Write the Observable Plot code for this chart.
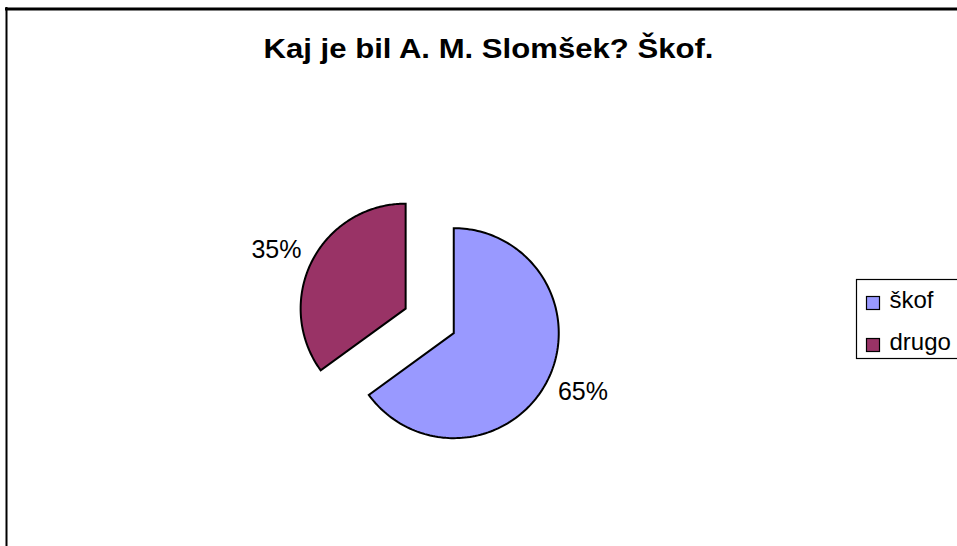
<!DOCTYPE html>
<html>
<head>
<meta charset="utf-8">
<script src="https://cdn.jsdelivr.net/npm/d3@7"></script>
<script src="https://cdn.jsdelivr.net/npm/@observablehq/plot@0.6"></script>
<style>
  html, body { margin: 0; padding: 0; background: #fff; }
  #chart { width: 957px; height: 546px; }
</style>
</head>
<body>
<div id="chart"></div>
<script>
// ---- data ----
const categories = ["škof", "drugo"];
const values = [65, 35];
const colors = ["#9999FF", "#993366"];
const title = "Kaj je bil A. M. Slomšek? Škof.";

// ---- layout ----
const W = 957, H = 546;
const CX = 429.2, CY = 320.4, R = 105, EXPLODE = 27;
const FONT = "'Liberation Sans', Arial, sans-serif";

const total = d3.sum(values);
let a0 = 0;
const slices = categories.map((cat, i) => {
  const a1 = a0 + (values[i] / total) * 2 * Math.PI;
  const mid = (a0 + a1) / 2;
  const ox = CX + EXPLODE * Math.sin(mid);
  const oy = CY - EXPLODE * Math.cos(mid);
  const pts = [{x: ox, y: oy}];
  const N = 160;
  for (let k = 0; k <= N; k++) {
    const a = a0 + (a1 - a0) * k / N;
    pts.push({x: ox + R * Math.sin(a), y: oy - R * Math.cos(a)});
  }
  pts.push({x: ox, y: oy});
  const s = {
    cat, color: colors[i], pts,
    label: Math.round(values[i] / total * 100) + "%",
    lx: ox + (R + 15) * Math.sin(mid) + 25 * Math.sin(mid),
    ly: oy - (R + 15) * Math.cos(mid) - 9 * Math.cos(mid)
  };
  a0 = a1;
  return s;
});

const legendItems = categories.map((c, i) => ({cat: c, color: colors[i], i}));

const plot = Plot.plot({
  width: W,
  height: H,
  margin: 0,
  x: {domain: [0, W], range: [0, W], axis: null},
  y: {domain: [0, H], range: [0, H], axis: null},
  style: {fontFamily: FONT, background: "#fff", overflow: "visible"},
  marks: [
    // chart border (top and left visible)
    Plot.ruleY([8.5], {x1: 5, x2: W, stroke: "black", strokeWidth: 3}),
    Plot.ruleX([6], {y1: 7, y2: H, stroke: "black", strokeWidth: 2}),
    // pie slices
    ...slices.map(s => Plot.line(s.pts, {
      x: "x", y: "y", fill: s.color, stroke: "black", strokeWidth: 2,
      strokeLinejoin: "miter", strokeMiterlimit: 10, curve: "linear"
    })),
    // data labels
    Plot.text(slices, {
      x: "lx", y: "ly", text: "label", fontSize: 25, fontFamily: FONT,
      textAnchor: "middle", lineAnchor: "middle", fill: "black"
    }),
    // title
    Plot.text([title], {
      frameAnchor: "top", dx: 9.5, dy: 57, text: d => d, fontSize: 27.5,
      fontWeight: "bold", fontFamily: FONT, lineAnchor: "bottom", fill: "black",
      className: "ttl"
    }),
    // legend box
    Plot.rect([0], {x1: () => 856.5, x2: () => 962, y1: () => 279.5, y2: () => 358.5,
      fill: "white", stroke: "black", strokeWidth: 1.2}),
    Plot.rect(legendItems, {
      x1: () => 866.5, x2: () => 879.5,
      y1: d => 296.5 + 42 * d.i, y2: d => 309.5 + 42 * d.i,
      fill: "color", stroke: "black", strokeWidth: 1.2
    }),
    Plot.text(legendItems, {
      x: () => 889, y: d => 307 + 42 * d.i, text: "cat", fontSize: 24,
      fontFamily: FONT, textAnchor: "start", lineAnchor: "bottom", fill: "black"
    })
  ],
  color: {type: "identity"}
});

document.getElementById("chart").appendChild(plot);
// stretch the title horizontally like the original
const t = plot.querySelector(".ttl text");
if (t) { t.setAttribute("textLength", "450"); t.setAttribute("lengthAdjust", "spacingAndGlyphs"); }
</script>
</body>
</html>
